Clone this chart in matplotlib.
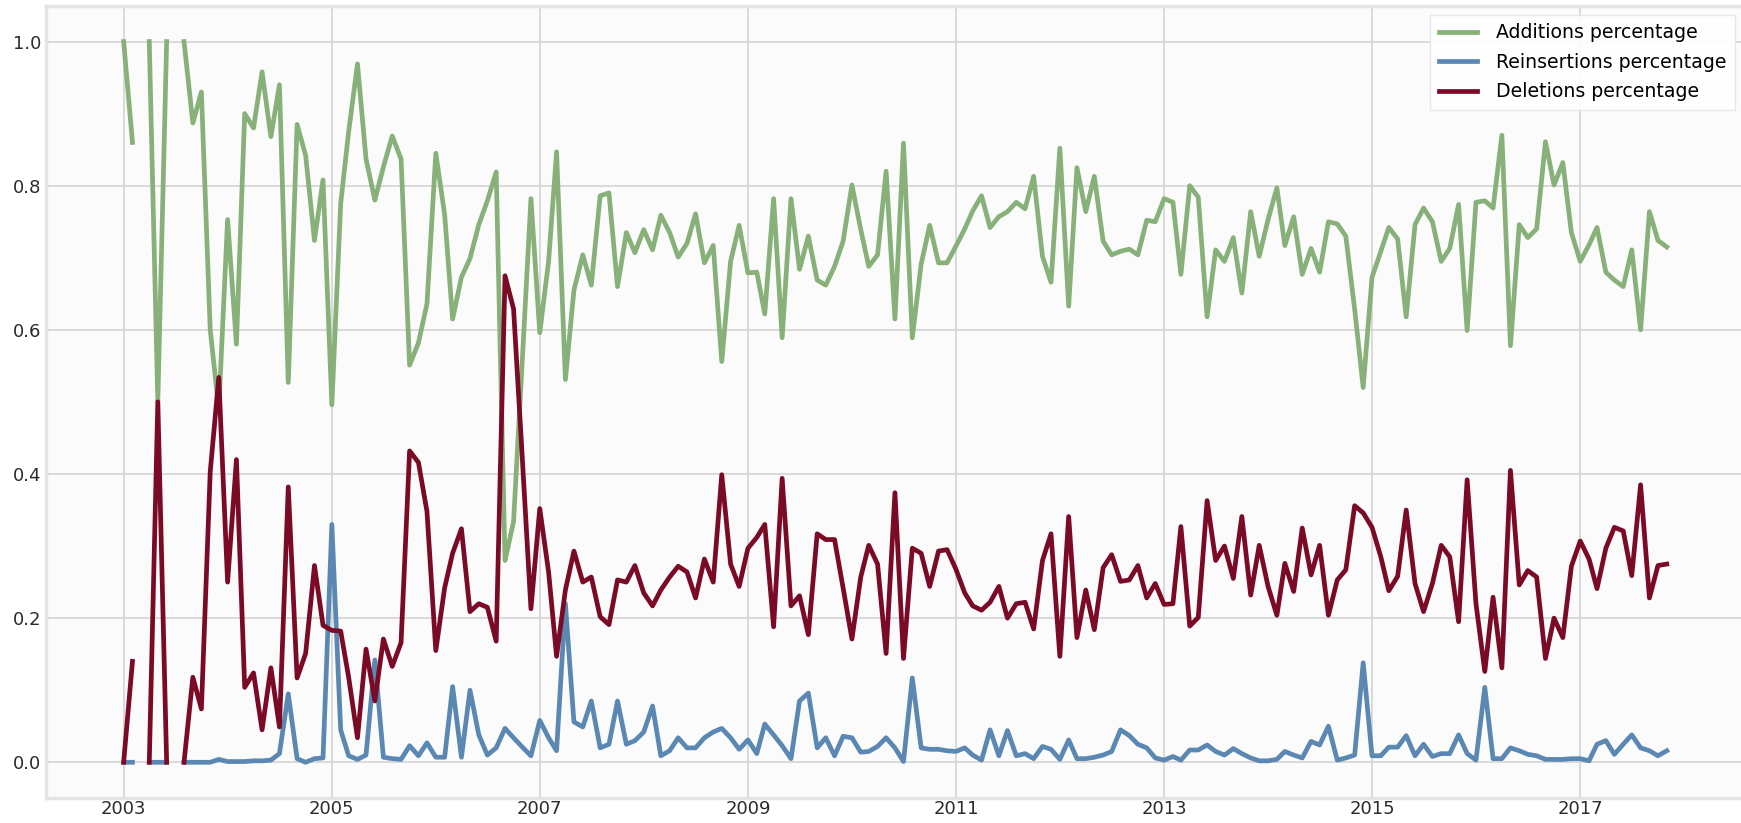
import numpy as np
import pandas as pd
import matplotlib
matplotlib.use("Agg")
import matplotlib.pyplot as plt

nan = np.nan

# monthly share of each edit type, Jan 2003 .. Nov 2017 (gaps = no edits)
months = pd.date_range("2003-01-01", "2017-11-01", freq="MS")

additions = [
    1.0, 0.86, nan, 1.0, 0.5, 1.0, nan, 1.0, 0.887, 0.93, 0.6, 0.49,
    0.753, 0.58, 0.9, 0.88, 0.958, 0.868, 0.94, 0.527, 0.885, 0.842, 0.724, 0.808,
    0.496, 0.775, 0.875, 0.969, 0.837, 0.78, 0.826, 0.869, 0.837, 0.551, 0.582, 0.636,
    0.845, 0.76, 0.615, 0.673, 0.699, 0.746, 0.779, 0.819, 0.28, 0.334, 0.56, 0.782,
    0.596, 0.695, 0.847, 0.531, 0.655, 0.704, 0.662, 0.786, 0.79, 0.66, 0.735, 0.707,
    0.739, 0.711, 0.759, 0.735, 0.701, 0.72, 0.761, 0.693, 0.717, 0.556, 0.695, 0.745,
    0.679, 0.68, 0.622, 0.782, 0.589, 0.782, 0.684, 0.73, 0.669, 0.662, 0.688, 0.723,
    0.801, 0.739, 0.688, 0.704, 0.82, 0.615, 0.859, 0.589, 0.691, 0.745, 0.693, 0.693,
    0.716, 0.74, 0.765, 0.786, 0.742, 0.757, 0.764, 0.777, 0.768, 0.813, 0.702, 0.666,
    0.852, 0.633, 0.825, 0.764, 0.813, 0.723, 0.704, 0.709, 0.712, 0.704, 0.752, 0.75,
    0.782, 0.777, 0.677, 0.8, 0.784, 0.618, 0.711, 0.695, 0.728, 0.651, 0.764, 0.702,
    0.753, 0.797, 0.717, 0.757, 0.677, 0.713, 0.68, 0.75, 0.747, 0.73, 0.629, 0.52,
    0.673, 0.709, 0.742, 0.726, 0.618, 0.746, 0.769, 0.75, 0.695, 0.713, 0.774, 0.599,
    0.777, 0.779, 0.769, 0.87, 0.578, 0.746, 0.728, 0.74, 0.861, 0.801, 0.832, 0.735,
    0.695, 0.718, 0.742, 0.68, 0.669, 0.66, 0.711, 0.6, 0.764, 0.724, 0.715,
]

reinsertions = [
    0.0, 0.0, nan, 0.0, 0.0, 0.0, nan, 0.0, 0.0, 0.0, 0.0, 0.004,
    0.001, 0.001, 0.001, 0.002, 0.002, 0.003, 0.012, 0.095, 0.005, 0.0, 0.005, 0.006,
    0.33, 0.045, 0.009, 0.004, 0.01, 0.142, 0.007, 0.005, 0.004, 0.023, 0.009, 0.027,
    0.007, 0.007, 0.105, 0.007, 0.1, 0.038, 0.01, 0.02, 0.047, 0.034, 0.021, 0.009,
    0.058, 0.034, 0.016, 0.22, 0.056, 0.049, 0.085, 0.02, 0.025, 0.085, 0.025, 0.03,
    0.042, 0.078, 0.009, 0.016, 0.034, 0.02, 0.02, 0.034, 0.042, 0.047, 0.034, 0.018,
    0.031, 0.012, 0.053, 0.038, 0.023, 0.005, 0.085, 0.096, 0.02, 0.034, 0.009, 0.036,
    0.034, 0.014, 0.015, 0.022, 0.034, 0.02, 0.001, 0.117, 0.02, 0.018, 0.018, 0.016,
    0.015, 0.02, 0.01, 0.003, 0.045, 0.009, 0.044, 0.009, 0.012, 0.005, 0.022, 0.018,
    0.004, 0.031, 0.005, 0.005, 0.007, 0.01, 0.015, 0.045, 0.037, 0.025, 0.02, 0.006,
    0.003, 0.008, 0.003, 0.017, 0.017, 0.024, 0.015, 0.01, 0.019, 0.012, 0.006, 0.002,
    0.002, 0.004, 0.015, 0.01, 0.006, 0.029, 0.024, 0.05, 0.003, 0.006, 0.01, 0.138,
    0.009, 0.009, 0.021, 0.021, 0.037, 0.009, 0.025, 0.008, 0.012, 0.012, 0.038, 0.012,
    0.003, 0.104, 0.005, 0.005, 0.02, 0.016, 0.011, 0.009, 0.004, 0.004, 0.004, 0.005,
    0.005, 0.002, 0.025, 0.03, 0.011, 0.025, 0.038, 0.02, 0.016, 0.009, 0.016,
]

deletions = [
    0.0, 0.14, nan, 0.0, 0.5, 0.0, nan, 0.0, 0.118, 0.074, 0.403, 0.534,
    0.25, 0.42, 0.104, 0.124, 0.045, 0.131, 0.049, 0.382, 0.117, 0.151, 0.273, 0.19,
    0.183, 0.182, 0.118, 0.034, 0.157, 0.085, 0.171, 0.133, 0.166, 0.432, 0.416, 0.348,
    0.155, 0.242, 0.29, 0.324, 0.209, 0.22, 0.215, 0.168, 0.675, 0.629, 0.42, 0.213,
    0.352, 0.264, 0.147, 0.239, 0.293, 0.25, 0.257, 0.202, 0.191, 0.253, 0.25, 0.273,
    0.235, 0.217, 0.239, 0.257, 0.272, 0.264, 0.228, 0.282, 0.25, 0.399, 0.275, 0.244,
    0.297, 0.312, 0.33, 0.188, 0.394, 0.217, 0.231, 0.177, 0.317, 0.309, 0.309, 0.242,
    0.171, 0.257, 0.301, 0.275, 0.151, 0.374, 0.144, 0.297, 0.29, 0.244, 0.293, 0.295,
    0.268, 0.235, 0.217, 0.211, 0.222, 0.244, 0.2, 0.22, 0.222, 0.185, 0.28, 0.317,
    0.147, 0.341, 0.173, 0.239, 0.184, 0.27, 0.288, 0.251, 0.253, 0.273, 0.228, 0.248,
    0.219, 0.22, 0.327, 0.189, 0.201, 0.363, 0.28, 0.3, 0.255, 0.341, 0.232, 0.301,
    0.244, 0.204, 0.276, 0.237, 0.325, 0.26, 0.301, 0.204, 0.253, 0.267, 0.356, 0.346,
    0.326, 0.285, 0.238, 0.258, 0.35, 0.248, 0.209, 0.248, 0.301, 0.285, 0.195, 0.392,
    0.22, 0.126, 0.229, 0.131, 0.405, 0.246, 0.266, 0.257, 0.144, 0.2, 0.173, 0.272,
    0.307, 0.282, 0.241, 0.297, 0.326, 0.321, 0.259, 0.385, 0.228, 0.273, 0.275,
]

tick_years = [2003, 2005, 2007, 2009, 2011, 2013, 2015, 2017]

fig = plt.figure(figsize=(17.41, 8.23), dpi=100)
fig.patch.set_facecolor("white")
ax = fig.add_axes([0.0267, 0.030, 0.975, 0.9633])
ax.set_facecolor("#fbfbfb")

ax.plot(months, additions, color="#87b179", lw=3.4, label="Additions percentage")
ax.plot(months, reinsertions, color="#5b88b3", lw=3.4, label="Reinsertions percentage")
ax.plot(months, deletions, color="#7a0a26", lw=3.4, label="Deletions percentage")

ax.set_xticks([pd.Timestamp(f"{y}-01-01") for y in tick_years])
ax.set_xticklabels([str(y) for y in tick_years])
ax.set_yticks([0.0, 0.2, 0.4, 0.6, 0.8, 1.0])
ax.set_yticklabels(["0.0", "0.2", "0.4", "0.6", "0.8", "1.0"])

ax.grid(True, color="#d4d4d4", lw=1.2)
ax.set_axisbelow(True)
ax.tick_params(length=0, labelsize=13, colors="#2b2b2b")
ax.tick_params(axis="x", pad=1)
ax.tick_params(axis="y", pad=4)
for s in ax.spines.values():
    s.set_color("#e4e4e4")
    s.set_linewidth(2.5)

leg = ax.legend(loc="upper right", fontsize=13.6, labelspacing=0.55,
                handlelength=2.0, handletextpad=1.0, borderpad=0.45,
                borderaxespad=0.5, framealpha=0.9, fancybox=False)
leg.get_frame().set_edgecolor("#e6e6e6")
leg.get_frame().set_linewidth(1.0)

fig.savefig("out.png", dpi=100)
